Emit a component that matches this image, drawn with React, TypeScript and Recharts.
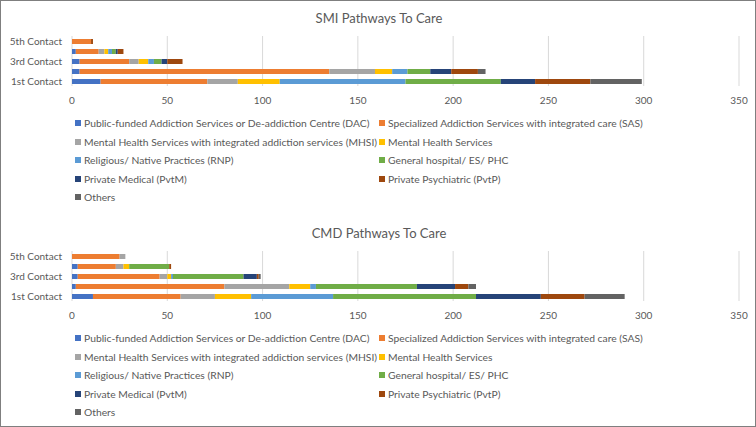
import React from "react";
import { BarChart, Bar, XAxis, YAxis, CartesianGrid } from "recharts";

const categories = ["1st Contact", "2nd Contact", "3rd Contact", "4th Contact", "5th Contact"];
const shownCategoryLabels = ["1st Contact", "3rd Contact", "5th Contact"];
const xTicks = [0, 50, 100, 150, 200, 250, 300, 350];

const seriesKeys = ["DAC", "SAS", "MHSI", "MHS", "RNP", "GH", "PvtM", "PvtP", "Others"];
const seriesNames = [
  "Public-funded Addiction Services or De-addiction Centre (DAC)",
  "Specialized Addiction Services with integrated care (SAS)",
  "Mental Health Services with integrated addiction services (MHSI)",
  "Mental Health Services",
  "Religious/ Native Practices (RNP)",
  "General hospital/ ES/ PHC",
  "Private Medical (PvtM)",
  "Private Psychiatric (PvtP)",
  "Others",
];
const seriesColors = ["#4472C4", "#ED7D31", "#A5A5A5", "#FFC000", "#5B9BD5", "#70AD47", "#264478", "#9E480E", "#636363"];

// SMI values, per series, ordered by categories (1st..5th contact)
const smiDAC = [15, 4, 4, 2, 0];
const smiSAS = [56, 131, 26, 12, 10];
const smiMHSI = [16, 24, 5, 3, 0];
const smiMHS = [22, 9, 5, 2, 0];
const smiRNP = [66, 8, 3, 2, 0];
const smiGH = [50, 12, 4, 2, 0];
const smiPvtM = [18, 11, 3, 1, 0];
const smiPvtP = [29, 14, 8, 3, 1];
const smiOthers = [27, 4, 0, 0, 0];

// CMD values
const cmdDAC = [11, 2, 3, 3, 0];
const cmdSAS = [46, 78, 43, 20, 25];
const cmdMHSI = [18, 34, 4, 4, 3];
const cmdMHS = [19, 11, 2, 3, 0];
const cmdRNP = [43, 3, 1, 0, 0];
const cmdGH = [75, 53, 37, 21, 0];
const cmdPvtM = [34, 20, 7, 0, 0];
const cmdPvtP = [23, 7, 1, 1, 0];
const cmdOthers = [21, 4, 1, 0, 0];

const buildData = (cols: number[][]) =>
  categories.map((c, i) => {
    const row: Record<string, any> = { name: c };
    seriesKeys.forEach((k, j) => (row[k] = cols[j][i]));
    return row;
  });

const smiData = buildData([smiDAC, smiSAS, smiMHSI, smiMHS, smiRNP, smiGH, smiPvtM, smiPvtP, smiOthers]);
const cmdData = buildData([cmdDAC, cmdSAS, cmdMHSI, cmdMHS, cmdRNP, cmdGH, cmdPvtM, cmdPvtP, cmdOthers]);

const FONT = "Lato, 'Open Sans', sans-serif";

const CategoryTick = (props: any) => {
  const { x, y, payload } = props;
  const v = payload?.value;
  if (!shownCategoryLabels.includes(v)) return null;
  return (
    <text x={x - 2} y={y} dy="0.35em" textAnchor="end" fill="#595959" fontSize={10} fontFamily={FONT}>
      {v}
    </text>
  );
};

const LegendBlock = ({ top }: { top: number }) => (
  <div
    style={{
      position: "absolute",
      left: 74,
      top,
      display: "grid",
      gridTemplateColumns: "304px 320px",
      fontFamily: FONT,
      fontSize: 10.3,
      color: "#595959",
    }}
  >
    {seriesNames.map((n, i) => (
      <div key={n} style={{ height: 18.5, display: "flex", alignItems: "center", whiteSpace: "nowrap" }}>
        <span style={{ display: "inline-block", flexShrink: 0, width: 6, height: 6, background: seriesColors[i], marginRight: 3 }} />
        <span>{n}</span>
      </div>
    ))}
  </div>
);

const Panel = ({ title, data, top }: { title: string; data: any[]; top: number }) => (
  <div style={{ position: "absolute", left: 0, top, width: 756, height: 212 }}>
    <div style={{ position: "absolute", left: 0, top: 9, width: 756, textAlign: "center", fontFamily: FONT, fontSize: 13, color: "#595959" }}>
      {title}
    </div>
    <div style={{ position: "absolute", left: 0, top: 0 }}>
      <BarChart width={756} height={115} data={data} layout="vertical" margin={{ top: 35, right: 18, left: 0, bottom: 0 }} barSize={5}>
        <CartesianGrid horizontal={false} stroke="#D9D9D9" />
        <XAxis
          type="number"
          domain={[0, 350]}
          ticks={xTicks}
          height={30}
          axisLine={false}
          tickLine={false}
          tickMargin={5}
          tick={{ fill: "#595959", fontSize: 10, fontFamily: FONT }}
        />
        <YAxis
          type="category"
          dataKey="name"
          reversed
          width={71}
          interval={0}
          axisLine={false}
          tickLine={false}
          tick={<CategoryTick />}
        />
        {seriesKeys.map((k, i) => (
          <Bar key={k} dataKey={k} name={seriesNames[i]} stackId="a" fill={seriesColors[i]} isAnimationActive={false} />
        ))}
      </BarChart>
    </div>
    <LegendBlock top={113} />
  </div>
);

export default function App() {
  return (
    <div
      style={{
        position: "absolute",
        left: 0,
        top: 0,
        width: 756,
        height: 427,
        background: "#fff",
        boxSizing: "border-box",
        border: "1px solid #7F7F7F",
        overflow: "hidden",
      }}
    >
      <Panel title="SMI Pathways To Care" data={smiData} top={0} />
      <Panel title="CMD Pathways To Care" data={cmdData} top={215} />
    </div>
  );
}
